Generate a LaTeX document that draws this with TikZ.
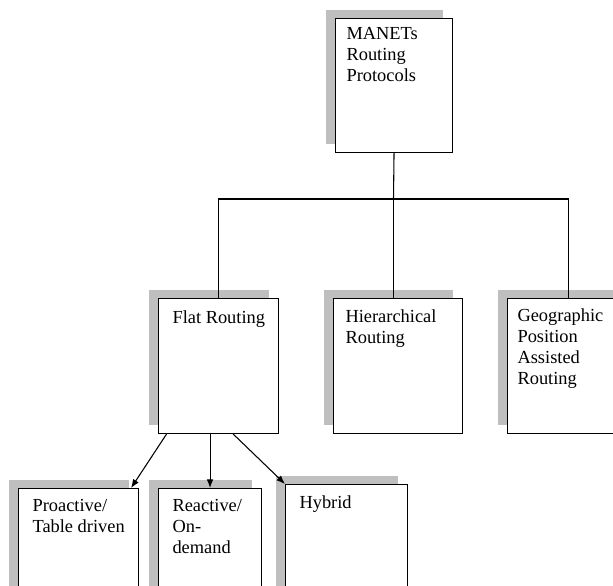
\documentclass[tikz,border=0pt]{standalone}
\usepackage{fontspec}
\setmainfont{Liberation Serif}
\usetikzlibrary{shadows, arrows.meta}

\begin{document}
\begin{tikzpicture}[x=0.75pt, y=-0.75pt, line width=0.8pt, >={Latex[length=6.5pt, width=5pt]}]
\tikzset{
  box/.style 2 args={draw, fill=white, anchor=north west, inner sep=0pt,
    minimum width=0.75pt*#1, minimum height=0.75pt*#2,
    drop shadow={shadow xshift=-7pt, shadow yshift=6.5pt, fill=gray!50, opacity=1}},
  txt/.style={anchor=north west, align=left, inner sep=0pt,
    font=\fontsize{13.8}{15.75}\selectfont}
}
\useasboundingbox (0,0) rectangle (613,585);
\clip (0,0) rectangle (613,585);
% boxes
\node[box={117}{134}] (manet) at (335, 18) {};
\node[box={120}{135}] (flat) at (158, 298) {};
\node[box={129}{135}] (hier) at (333, 298) {};
\node[box={122}{135}] (geo) at (507, 298) {};
\node[box={120}{115}] (pro) at (18, 488) {};
\node[box={103}{115}] (rea) at (158, 488) {};
\node[box={122}{119}] (hyb) at (285, 484) {};
% texts
\node[txt] (manet-t) at (346, 27) {MANETs\\Routing\\Protocols};
\node[txt] (flat-t) at (172, 310) {Flat Routing};
\node[txt] (hier-t) at (345, 309) {Hierarchical\\Routing};
\node[txt] (geo-t) at (517, 308) {Geographic\\Position\\Assisted\\Routing};
\node[txt] (pro-t) at (32, 499) {Proactive/\\Table driven};
\node[txt] (rea-t) at (172, 499) {Reactive/\\On-\\demand};
\node[txt] (hyb-t) at (299, 495) {Hybrid};
% tree
\coordinate (bus) at (393.5, 199);
\draw (manet.south) -- (bus);
\draw (flat.north) |- (bus) -| (geo.north);
\draw (bus) -- (bus |- hier.north);
\draw[->] ([xshift=-39pt]flat.south) -- ([xshift=-6pt]pro.north east);
\draw[->] (flat.south -| rea.north) -- (rea.north);
\draw[->] ([xshift=11pt]flat.south) -- (hyb.north west);
\end{tikzpicture}
\end{document}
